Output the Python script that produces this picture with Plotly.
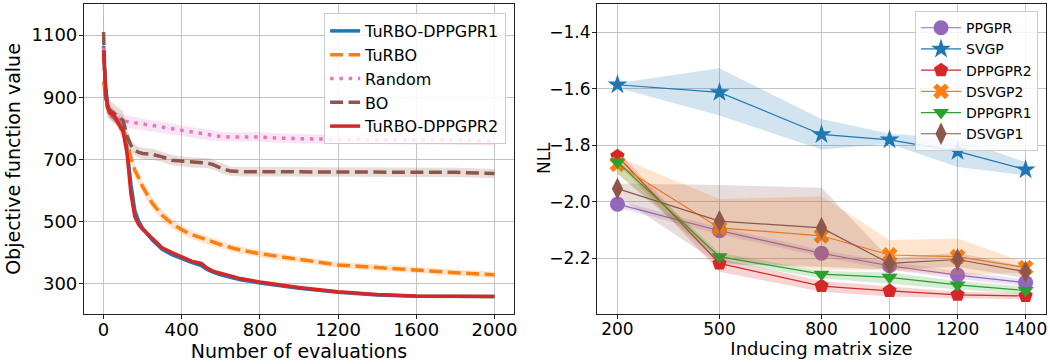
import plotly.graph_objects as go

# ---------------- Left panel data ----------------
evals = [0, 10, 20, 30, 50, 70, 90, 100, 110, 120, 140, 160, 180, 200, 250, 300, 350, 400,
         450, 500, 530, 560, 600, 650, 700, 800, 900, 1000, 1200, 1400, 1600, 1800, 2000]
turbo_dppgpr1 = [1065, 940, 880, 855, 835, 825, 810, 800, 775, 735, 620, 535, 500, 478, 440, 410, 393, 380,
                 368, 358, 345, 337, 328, 320, 312, 302, 293, 285, 272, 263, 259, 258, 258]
turbo = [950, 900, 870, 855, 840, 825, 810, 800, 780, 760, 705, 665, 640, 612, 558, 520, 493, 473,
         458, 446, 440, 433, 425, 416, 408, 396, 386, 378, 360, 351, 343, 335, 328]
random_search = [1060, 900, 870, 855, 840, 830, 826, 823, 822, 822, 820, 818, 815, 812, 808, 804, 798, 792,
                 786, 782, 779, 776, 773, 772, 772, 772, 768, 766, 764, 763, 763, 762, 759]
bo = [1110, 900, 870, 860, 850, 840, 830, 825, 800, 775, 745, 730, 722, 719, 716, 708, 697, 694,
      690, 689, 688, 683, 672, 662, 660, 660, 660, 660, 659, 658, 658, 658, 654]
turbo_dppgpr2 = [1050, 930, 870, 850, 845, 820, 800, 790, 760, 720, 590, 515, 490, 475, 445, 415, 400, 385,
                 372, 365, 350, 340, 333, 324, 316, 305, 295, 287, 274, 265, 260, 258, 258]

# half widths of the shaded bands
turbo_dppgpr1_err = [10, 15, 15, 15, 12, 15, 25, 25, 25, 25, 20, 15, 12, 10, 8, 6, 6, 5,
                     5, 5, 5, 5, 4, 4, 4, 4, 3, 3, 3, 3, 3, 3, 3]
turbo_err = [20, 20, 18, 15, 15, 15, 15, 15, 15, 18, 20, 20, 20, 20, 18, 18, 16, 15,
             14, 14, 13, 13, 12, 12, 12, 11, 11, 10, 10, 10, 10, 10, 10]
random_err = [20, 25, 25, 25, 25, 22, 20, 20, 20, 20, 20, 18, 18, 18, 18, 18, 18, 18,
              17, 17, 16, 16, 15, 15, 15, 15, 15, 15, 15, 15, 15, 15, 15]
bo_err = [90, 40, 35, 30, 30, 30, 30, 30, 28, 25, 20, 18, 18, 18, 18, 17, 17, 16,
          16, 16, 16, 16, 16, 15, 15, 15, 15, 15, 15, 15, 15, 15, 15]
turbo_dppgpr2_err = [10, 15, 15, 15, 12, 15, 25, 25, 25, 25, 20, 15, 12, 10, 8, 6, 6, 5,
                     5, 5, 5, 5, 4, 4, 4, 4, 3, 3, 3, 3, 3, 3, 3]

left_xticks = [0, 400, 800, 1200, 1600, 2000]
left_yticks = [300, 500, 700, 900, 1100]

# ---------------- Right panel data ----------------
inducing = [200, 500, 800, 1000, 1200, 1400]
ppgpr = [-2.008, -2.102, -2.182, -2.226, -2.259, -2.286]
ppgpr_lo = [-2.02, -2.115, -2.195, -2.24, -2.272, -2.298]
ppgpr_hi = [-1.995, -2.09, -2.17, -2.212, -2.246, -2.274]
svgp = [-1.585, -1.612, -1.761, -1.780, -1.821, -1.886]
svgp_lo = [-1.596, -1.694, -1.814, -1.794, -1.876, -1.906]
svgp_hi = [-1.580, -1.527, -1.706, -1.759, -1.776, -1.859]
dppgpr2 = [-1.838, -2.218, -2.298, -2.315, -2.329, -2.333]
dppgpr2_lo = [-1.86, -2.247, -2.318, -2.335, -2.341, -2.345]
dppgpr2_hi = [-1.82, -2.20, -2.28, -2.30, -2.318, -2.322]
dsvgp2 = [-1.867, -2.092, -2.120, -2.188, -2.194, -2.233]
dsvgp2_lo = [-1.90, -2.20, -2.24, -2.24, -2.26, -2.25]
dsvgp2_hi = [-1.84, -1.99, -1.98, -2.135, -2.13, -2.215]
dppgpr1 = [-1.859, -2.194, -2.256, -2.267, -2.294, -2.314]
dppgpr1_lo = [-1.90, -2.21, -2.27, -2.29, -2.31, -2.325]
dppgpr1_hi = [-1.85, -2.18, -2.245, -2.25, -2.28, -2.30]
dsvgp1 = [-1.953, -2.068, -2.092, -2.218, -2.204, -2.247]
dsvgp1_lo = [-1.98, -2.22, -2.23, -2.24, -2.23, -2.27]
dsvgp1_hi = [-1.935, -1.94, -1.95, -2.20, -2.18, -2.23]

right_yticks = [-2.2, -2.0, -1.8, -1.6, -1.4]

FONT = "DejaVu Sans"

def rgba(hexc, a):
    h = hexc.lstrip('#')
    return f"rgba({int(h[0:2],16)},{int(h[2:4],16)},{int(h[4:6],16)},{a})"

fig = go.Figure()

# Left panel
left_series = [
    ("TuRBO-DPPGPR1", turbo_dppgpr1, turbo_dppgpr1_err, "#1f77b4", "solid"),
    ("TuRBO", turbo, turbo_err, "#ff7f0e", "13px,5.5px"),
    ("Random", random_search, random_err, "#e377c2", "3.5px,5.8px"),
    ("BO", bo, bo_err, "#8c564b", "13px,5.5px"),
    ("TuRBO-DPPGPR2", turbo_dppgpr2, turbo_dppgpr2_err, "#d62728", "solid"),
]
for name, ys, err, col, dash in left_series:
    up = [y + e for y, e in zip(ys, err)]
    lo = [y - e for y, e in zip(ys, err)]
    fig.add_trace(go.Scatter(x=evals + evals[::-1], y=up + lo[::-1], fill="toself",
                             fillcolor=rgba(col, 0.2), line=dict(width=0), mode="lines",
                             hoverinfo="skip", showlegend=False, xaxis="x", yaxis="y"))
    fig.add_trace(go.Scatter(x=evals, y=ys, mode="lines", name=name,
                             line=dict(color=col, width=3.5, dash=dash),
                             xaxis="x", yaxis="y", legend="legend"))

# Right panel
right_series = [
    ("PPGPR", ppgpr, ppgpr_lo, ppgpr_hi, "#9467bd", "circle", 15),
    ("SVGP", svgp, svgp_lo, svgp_hi, "#1f77b4", "star", 15),
    ("DPPGPR2", dppgpr2, dppgpr2_lo, dppgpr2_hi, "#d62728", "pentagon", 15),
    ("DSVGP2", dsvgp2, dsvgp2_lo, dsvgp2_hi, "#ff7f0e", "x", 14),
    ("DPPGPR1", dppgpr1, dppgpr1_lo, dppgpr1_hi, "#2ca02c", "triangle-down", 14),
    ("DSVGP1", dsvgp1, dsvgp1_lo, dsvgp1_hi, "#8c564b", "diamond-tall", 16),
]
for name, ys, lo, hi, col, sym, sz in right_series:
    fig.add_trace(go.Scatter(x=inducing + inducing[::-1], y=hi + lo[::-1], fill="toself",
                             fillcolor=rgba(col, 0.2), line=dict(width=0), mode="lines",
                             hoverinfo="skip", showlegend=False, xaxis="x2", yaxis="y2"))
    fig.add_trace(go.Scatter(x=inducing, y=ys, mode="lines+markers", name=name,
                             line=dict(color=col, width=1.2),
                             marker=dict(symbol=sym, size=sz, color=col, line=dict(width=0)),
                             xaxis="x2", yaxis="y2", legend="legend2"))

axis_common = dict(showgrid=True, gridcolor="#c4c4c4", gridwidth=1, zeroline=False,
                   showline=True, mirror=True, linecolor="#222222", linewidth=1.2,
                   ticks="outside", ticklen=4, tickcolor="#222222", automargin=False)

fig.update_layout(
    width=1050, height=364,
    margin=dict(l=0, r=0, t=4, b=50),
    paper_bgcolor="white", plot_bgcolor="white",
    font=dict(family=FONT, color="black"),
    xaxis=dict(domain=[0.080, 0.4895], range=[-100, 2100], tickvals=left_xticks,
               tickfont=dict(size=18), ticklabelstandoff=-5,
               title=dict(text="Number of evaluations", font=dict(size=19), standoff=0),
               anchor="y", **axis_common),
    yaxis=dict(domain=[0, 1], range=[202, 1200], tickvals=left_yticks,
               tickfont=dict(size=18), ticklabelstandoff=-2,
               title=dict(text="Objective function value", font=dict(size=19), standoff=5),
               anchor="x", **axis_common),
    xaxis2=dict(domain=[0.5686, 0.9962], range=[140, 1460], tickvals=inducing,
                tickfont=dict(size=17), ticklabelstandoff=-5,
                title=dict(text="Inducing matrix size", font=dict(size=18), standoff=0),
                anchor="y2", **axis_common),
    yaxis2=dict(domain=[0, 1], range=[-2.397, -1.299], tickvals=right_yticks, tickformat=".1f",
                tickfont=dict(size=17), ticklabelstandoff=-2,
                anchor="x2", **axis_common),
    annotations=[dict(text="NLL", xref="paper", yref="paper", x=544 / 1050, y=0.503,
                      xanchor="center", yanchor="middle", textangle=-90, showarrow=False,
                      font=dict(size=17, family=FONT, color="black"))],
    legend=dict(x=0.482, y=0.971, xanchor="right", yanchor="top",
                bgcolor="rgba(255,255,255,0.85)", bordercolor="#cccccc", borderwidth=1,
                font=dict(size=16, family=FONT), itemwidth=30, tracegroupgap=0),
    legend2=dict(x=0.9886, y=0.977, xanchor="right", yanchor="top",
                 bgcolor="rgba(255,255,255,0.85)", bordercolor="#cccccc", borderwidth=1,
                 font=dict(size=14, family=FONT), itemwidth=40, tracegroupgap=0),
    showlegend=True,
)

fig.write_html("out.html", config={"displayModeBar": False},
               post_script="document.body.style.margin='0px';")
